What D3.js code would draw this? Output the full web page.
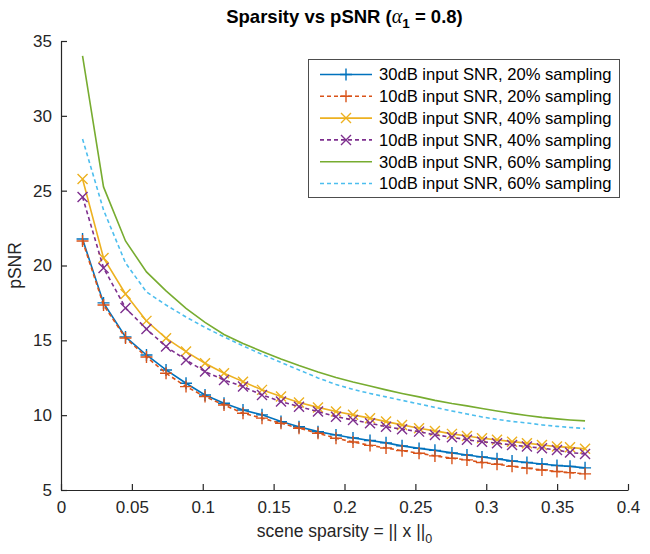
<!DOCTYPE html>
<html>
<head>
<meta charset="utf-8">
<script src="https://cdn.jsdelivr.net/npm/d3@7/dist/d3.min.js"></script>
<style>
  html, body { margin: 0; padding: 0; background: #ffffff; }
  svg { display: block; font-family: "Liberation Sans", Arial, sans-serif; }
</style>
</head>
<body>
<svg id="chart" width="650" height="554"></svg>
<script>
// ---------- data ----------
const sparsity = [0.0152, 0.0300, 0.0455, 0.0603, 0.0741, 0.0882, 0.1016, 0.1150, 0.1284, 0.1418,
                  0.1552, 0.1679, 0.1813, 0.1940, 0.2060, 0.2180, 0.2293, 0.2406, 0.2526, 0.2638,
                  0.2758, 0.2864, 0.2970, 0.3076, 0.3182, 0.3287, 0.3393, 0.3499, 0.3591, 0.3697];

const snr30_20 = [21.77, 17.50, 15.23, 14.02, 13.02, 12.13, 11.35, 10.80, 10.35, 10.02,
                  9.57, 9.23, 8.90, 8.68, 8.48, 8.31, 8.15, 7.95, 7.78, 7.65,
                  7.48, 7.34, 7.21, 7.08, 6.94, 6.84, 6.74, 6.64, 6.58, 6.48];
const snr10_20 = [21.64, 17.36, 15.16, 13.89, 12.80, 11.91, 11.24, 10.68, 10.13, 9.80,
                  9.46, 9.13, 8.79, 8.46, 8.21, 7.98, 7.81, 7.63, 7.46, 7.28,
                  7.12, 7.01, 6.84, 6.72, 6.58, 6.46, 6.34, 6.24, 6.16, 6.08];
const snr30_40 = [25.78, 20.50, 18.10, 16.30, 15.14, 14.25, 13.47, 12.80, 12.24, 11.69,
                  11.24, 10.85, 10.52, 10.24, 10.02, 9.80, 9.57, 9.35, 9.13, 8.95,
                  8.75, 8.61, 8.46, 8.35, 8.23, 8.13, 8.01, 7.90, 7.85, 7.75];
const snr10_40 = [24.58, 19.84, 17.16, 15.76, 14.58, 13.69, 12.91, 12.35, 11.91, 11.35,
                  10.91, 10.57, 10.24, 9.90, 9.68, 9.46, 9.23, 9.06, 8.90, 8.68,
                  8.53, 8.35, 8.23, 8.13, 8.01, 7.90, 7.79, 7.68, 7.50, 7.41];
const snr30_60 = [34.00, 25.25, 21.64, 19.57, 18.30, 17.13, 16.20, 15.39, 14.79, 14.26,
                  13.76, 13.32, 12.89, 12.52, 12.22, 11.95, 11.69, 11.45, 11.22, 10.99,
                  10.78, 10.62, 10.45, 10.28, 10.12, 9.98, 9.85, 9.75, 9.68, 9.62];
const snr10_60 = [28.45, 23.71, 20.17, 18.23, 17.36, 16.56, 15.86, 15.23, 14.63, 14.06,
                  13.52, 13.02, 12.49, 12.05, 11.72, 11.45, 11.22, 10.99, 10.75, 10.52,
                  10.28, 10.08, 9.88, 9.72, 9.58, 9.48, 9.35, 9.25, 9.18, 9.11];

const seriesNames = ["30dB input SNR, 20% sampling", "10dB input SNR, 20% sampling",
                     "30dB input SNR, 40% sampling", "10dB input SNR, 40% sampling",
                     "30dB input SNR, 60% sampling", "10dB input SNR, 60% sampling"];
const seriesValues = [snr30_20, snr10_20, snr30_40, snr10_40, snr30_60, snr10_60];
const seriesColors = ["#0072BD", "#D95319", "#EDB120", "#7E2F8E", "#77AC30", "#4DBEEE"];
const seriesDashed = [false, true, false, true, false, true];
const seriesMarker = ["plus", "plus", "cross", "cross", "none", "none"];

const xTicks = [0, 0.05, 0.1, 0.15, 0.2, 0.25, 0.3, 0.35, 0.4];
const xTickLabels = ["0", "0.05", "0.1", "0.15", "0.2", "0.25", "0.3", "0.35", "0.4"];
const yTicks = [5, 10, 15, 20, 25, 30, 35];
const yTickLabels = ["5", "10", "15", "20", "25", "30", "35"];

// ---------- layout ----------
const svg = d3.select("#chart");
const L = 61, R = 628, T = 41, B = 490;
const axisColor = "#262626";

const x = d3.scaleLinear().domain([0, 0.4]).range([L, R]);
const y = d3.scaleLinear().domain([5, 35]).range([B, T]);

// ---------- series ----------
const line = d3.line().x(d => x(d[0])).y(d => y(d[1]));
const plot = svg.append("g");

function drawMarker(g, type, cx, cy) {
  const r = type === "plus" ? 6 : 5;
  if (type === "plus") {
    g.append("path").attr("d", `M${cx - r},${cy}H${cx + r}M${cx},${cy - r}V${cy + r}`);
  } else {
    g.append("path").attr("d", `M${cx - r},${cy - r}L${cx + r},${cy + r}M${cx - r},${cy + r}L${cx + r},${cy - r}`);
  }
}

seriesValues.forEach((vals, i) => {
  const pts = sparsity.map((s, k) => [s, vals[k]]);
  plot.append("path")
    .datum(pts)
    .attr("d", line)
    .attr("fill", "none")
    .attr("stroke", seriesColors[i])
    .attr("stroke-width", 1.6)
    .attr("stroke-dasharray", seriesDashed[i] ? "4,3" : null);
  if (seriesMarker[i] !== "none") {
    const g = plot.append("g").attr("stroke", seriesColors[i]).attr("stroke-width", 1.4).attr("fill", "none");
    pts.forEach(p => drawMarker(g, seriesMarker[i], x(p[0]), y(p[1])));
  }
});

// ---------- axes ----------
const xAxis = d3.axisBottom(x).tickValues(xTicks)
  .tickFormat((d, i) => xTickLabels[i]).tickSizeInner(-6).tickSizeOuter(0).tickPadding(11);
const yAxis = d3.axisLeft(y).tickValues(yTicks)
  .tickFormat((d, i) => yTickLabels[i]).tickSizeInner(-6).tickSizeOuter(0).tickPadding(9);

const gx = svg.append("g").attr("transform", `translate(0,${B})`).call(xAxis);
const gy = svg.append("g").attr("transform", `translate(${L},0)`).call(yAxis);
[gx, gy].forEach(g => {
  g.select(".domain").attr("stroke", axisColor).attr("stroke-width", 1.2);
  g.selectAll(".tick line").attr("stroke", axisColor).attr("stroke-width", 1.2);
  g.selectAll(".tick text").attr("fill", axisColor).attr("font-size", 17)
    .attr("font-family", "'Liberation Sans', Arial, sans-serif");
});

// ---------- labels ----------
const title = svg.append("text")
  .attr("x", (L + R) / 2).attr("y", 23)
  .attr("text-anchor", "middle")
  .attr("font-size", 18.5).attr("font-weight", "bold").attr("fill", "#000");
title.append("tspan").text("Sparsity vs pSNR (");
title.append("tspan").text("α").attr("font-family", "'Liberation Serif', 'DejaVu Serif', serif")
  .attr("font-style", "italic").attr("font-weight", "normal").attr("font-size", 20);
title.append("tspan").text("1").attr("dy", 5).attr("font-size", 13.5);
title.append("tspan").text(" = 0.8)").attr("dy", -5);

const xl = svg.append("text")
  .attr("x", (L + R) / 2).attr("y", 537)
  .attr("text-anchor", "middle")
  .attr("font-size", 17.5).attr("fill", axisColor);
xl.append("tspan").text("scene sparsity = || x ||");
xl.append("tspan").text("0").attr("dy", 6).attr("font-size", 12.5);

svg.append("text")
  .attr("transform", `translate(21,${(T + B) / 2}) rotate(-90)`)
  .attr("text-anchor", "middle")
  .attr("font-size", 17.5).attr("fill", axisColor)
  .text("pSNR");

// ---------- legend ----------
const lg = svg.append("g");
lg.append("rect").attr("x", 308.5).attr("y", 59.5).attr("width", 311).attr("height", 138)
  .attr("fill", "#fff").attr("stroke", "#4d4d4d").attr("stroke-width", 1);
seriesNames.forEach((name, i) => {
  const ry = 74.5 + i * 21.8;
  lg.append("line").attr("x1", 320).attr("x2", 372).attr("y1", ry).attr("y2", ry)
    .attr("stroke", seriesColors[i]).attr("stroke-width", 1.6)
    .attr("stroke-dasharray", seriesDashed[i] ? "4,3" : null);
  if (seriesMarker[i] !== "none") {
    const g = lg.append("g").attr("stroke", seriesColors[i]).attr("stroke-width", 1.4).attr("fill", "none");
    drawMarker(g, seriesMarker[i], 346, ry);
  }
  lg.append("text").attr("x", 379).attr("y", ry).attr("dy", "0.36em")
    .attr("font-size", 16.6).attr("fill", "#000").text(name);
});
</script>
</body>
</html>
